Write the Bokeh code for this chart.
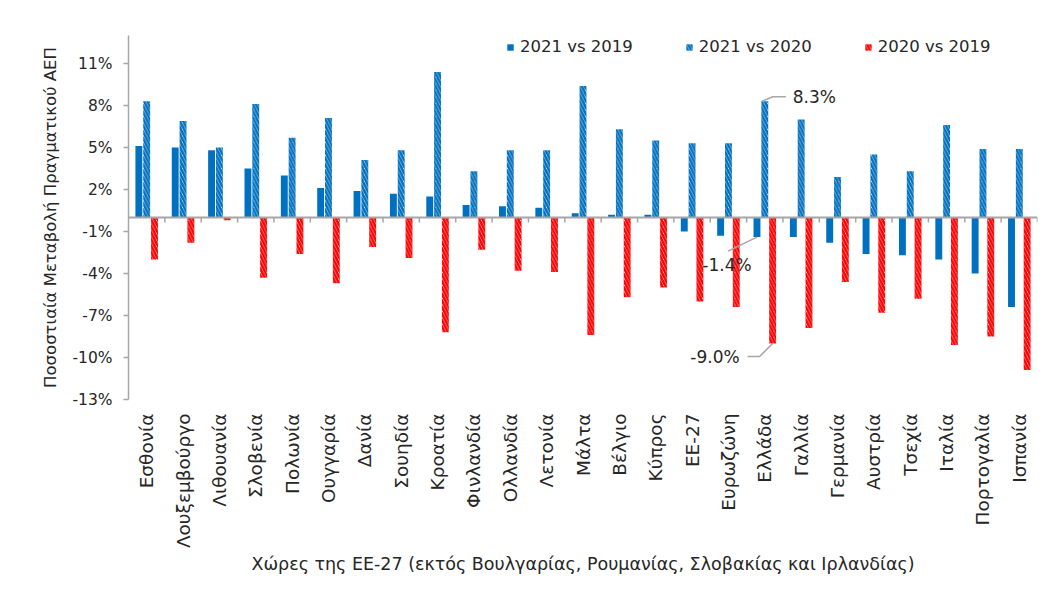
import math
from bokeh.plotting import figure
from bokeh.models import (ColumnDataSource, Range1d, FixedTicker, Span, Legend,
                          LegendItem, CustomJSTickFormatter)
from bokeh.core.properties import value
from bokeh.embed import file_html
from bokeh.resources import INLINE

# ---------------- data ----------------
countries = ["Εσθονία", "Λουξεμβούργο", "Λιθουανία", "Σλοβενία", "Πολωνία",
             "Ουγγαρία", "Δανία", "Σουηδία", "Κροατία", "Φινλανδία", "Ολλανδία",
             "Λετονία", "Μάλτα", "Βέλγιο", "Κύπρος", "ΕΕ-27", "Ευρωζώνη",
             "Ελλάδα", "Γαλλία", "Γερμανία", "Αυστρία", "Τσεχία", "Ιταλία",
             "Πορτογαλία", "Ισπανία"]
v21_19 = [5.1, 5.0, 4.8, 3.5, 3.0, 2.1, 1.9, 1.7, 1.5, 0.9, 0.8, 0.7, 0.3,
          0.2, 0.2, -1.0, -1.3, -1.4, -1.4, -1.8, -2.6, -2.7, -3.0, -4.0, -6.4]
v21_20 = [8.3, 6.9, 5.0, 8.1, 5.7, 7.1, 4.1, 4.8, 10.4, 3.3, 4.8, 4.8, 9.4,
          6.3, 5.5, 5.3, 5.3, 8.3, 7.0, 2.9, 4.5, 3.3, 6.6, 4.9, 4.9]
v20_19 = [-3.0, -1.8, -0.2, -4.3, -2.6, -4.7, -2.1, -2.9, -8.2, -2.3, -3.8,
          -3.9, -8.4, -5.7, -5.0, -6.0, -6.4, -9.0, -7.9, -4.6, -6.8, -5.8,
          -9.1, -8.5, -10.9]
series_names = ["2021 vs 2019", "2021 vs 2020", "2020 vs 2019"]
y_ticks = [-13, -10, -7, -4, -1, 2, 5, 8, 11]
highlight = "Ελλάδα"
x_title = "Χώρες της ΕΕ-27 (εκτός Βουλγαρίας, Ρουμανίας, Σλοβακίας και Ιρλανδίας)"
y_title = "Ποσοστιαία Μεταβολή Πραγματικού ΑΕΠ"

# ---------------- layout ----------------
BLUE = "#0070C0"
RED = "#FF0000"
AXIS = "#A6A6A6"
TXT = "#262626"
FONT = "DejaVu Sans"

BL, BR, BT, BB = 128, 4, 35, 190
FW, FH = 909, 364
W, H = BL + FW + BR, BT + FH + BB
n = len(countries)
ymin, ymax = -13, 13
px_x = n / FW          # data units per pixel
px_y = (ymax - ymin) / FH

xc = [i + 0.5 for i in range(n)]
bw = 0.19
off = 0.215

src = ColumnDataSource(dict(
    x1=[x - off for x in xc], x2=xc, x3=[x + off for x in xc],
    a=v21_19, b=v21_20, c=v20_19))

p = figure(width=W, height=H, output_backend="svg", toolbar_location=None,
           x_range=Range1d(0, n), y_range=Range1d(ymin, ymax),
           min_border_left=BL, min_border_right=BR, min_border_top=BT,
           min_border_bottom=BB, outline_line_color=None,
           background_fill_color="white", border_fill_color="white")
p.xgrid.grid_line_color = None
p.ygrid.grid_line_color = None

r1 = p.vbar(x="x1", top="a", bottom=0, width=bw, source=src,
            fill_color=BLUE, line_color=None)
r2 = p.vbar(x="x2", top="b", bottom=0, width=bw, source=src,
            fill_color="white", line_color=None, hatch_color=BLUE,
            hatch_pattern="left_diagonal_line", hatch_scale=6.5, hatch_weight=2.5)
r3 = p.vbar(x="x3", top="c", bottom=0, width=bw, source=src,
            fill_color="white", line_color=None, hatch_color=RED,
            hatch_pattern="left_diagonal_line", hatch_scale=6.5, hatch_weight=2.5)

# zero line + category separators
p.add_layout(Span(location=0, dimension="width", line_color=AXIS, line_width=2))
bounds = list(range(1, n + 1))
p.segment(x0=bounds, x1=bounds, y0=[0] * n, y1=[-5 * px_y] * n,
          line_color=AXIS, line_width=1.5)

# axes
p.yaxis.ticker = FixedTicker(ticks=y_ticks)
p.yaxis.formatter = CustomJSTickFormatter(code="return tick.toFixed(0) + '%';")
p.yaxis.axis_line_color = AXIS
p.yaxis.axis_line_width = 1.5
p.yaxis.major_tick_line_color = AXIS
p.yaxis.major_tick_line_width = 1.5
p.yaxis.major_tick_out = 5
p.yaxis.major_tick_in = 0
p.yaxis.minor_tick_line_color = None
p.yaxis.major_label_text_font = FONT
p.yaxis.major_label_text_font_size = "15.5px"
p.yaxis.major_label_text_color = TXT
p.yaxis.major_label_standoff = 11
p.yaxis.axis_label = y_title
p.yaxis.axis_label_text_font = FONT
p.yaxis.axis_label_text_font_size = "16.5px"
p.yaxis.axis_label_text_font_style = "normal"
p.yaxis.axis_label_text_color = TXT
p.yaxis.axis_label_standoff = 9

p.xaxis.ticker = FixedTicker(ticks=xc)
p.xaxis.major_label_overrides = {x: c for x, c in zip(xc, countries)}
p.xaxis.major_label_orientation = math.pi / 2
p.xaxis.axis_line_color = None
p.xaxis.major_tick_line_color = None
p.xaxis.minor_tick_line_color = None
p.xaxis.major_label_text_font = FONT
p.xaxis.major_label_text_font_size = "18.5px"
p.xaxis.major_label_text_color = TXT
p.xaxis.major_label_standoff = 8
p.xaxis.axis_label = x_title
p.xaxis.axis_label_text_font = FONT
p.xaxis.axis_label_text_font_size = "17.5px"
p.xaxis.axis_label_text_font_style = "normal"
p.xaxis.axis_label_text_color = TXT
p.xaxis.axis_label_standoff = 3

# annotations for highlighted country
gi = countries.index(highlight)
gx = xc[gi]

def lbl(v):
    return f"{v:.1f}%"

ANN = "17px"
# 8.3% (2021 vs 2020)
ax, ay = gx - 3 * px_x, v21_20[gi]
p.line(x=[ax, ax + 11 * px_x, ax + 24 * px_x],
       y=[ay, ay + 4.5 * px_y, ay + 4.5 * px_y], line_color=AXIS, line_width=1.5)
p.text(x=[ax + 31 * px_x], y=[ay + 4.5 * px_y], text=[lbl(v21_20[gi])],
       text_font=value(FONT), text_font_size=ANN, text_color=TXT,
       text_align="left", text_baseline="middle")

# -1.4% (2021 vs 2019)
bx, by = gx - off, v21_19[gi]
p.line(x=[bx, bx - 29 * px_x], y=[by, by - 14 * px_y],
       line_color=AXIS, line_width=1.5)
p.text(x=[bx - 30 * px_x], y=[by - 28 * px_y], text=[lbl(v21_19[gi])],
       text_font=value(FONT), text_font_size=ANN, text_color=TXT,
       text_align="center", text_baseline="middle")

# -9.0% (2020 vs 2019)
cx, cy = gx + off, v20_19[gi]
p.line(x=[cx, cx - 13 * px_x, cx - 25 * px_x],
       y=[cy, cy - 13 * px_y, cy - 13 * px_y], line_color=AXIS, line_width=1.5)
p.text(x=[cx - 33 * px_x], y=[cy - 13 * px_y], text=[lbl(v20_19[gi])],
       text_font=value(FONT), text_font_size=ANN, text_color=TXT,
       text_align="right", text_baseline="middle")

# legend
legend = Legend(items=[LegendItem(label=series_names[0], renderers=[r1]),
                       LegendItem(label=series_names[1], renderers=[r2]),
                       LegendItem(label=series_names[2], renderers=[r3])],
                orientation="horizontal", location=(378, FH - 21),
                padding=0, margin=0, spacing=52, label_standoff=6,
                glyph_width=8, glyph_height=8, label_height=18,
                border_line_color=None, background_fill_alpha=0,
                label_text_font=FONT, label_text_font_size="16.5px",
                label_text_color=TXT)
p.add_layout(legend, "center")

open("out.html", "w").write(file_html(p, INLINE))
